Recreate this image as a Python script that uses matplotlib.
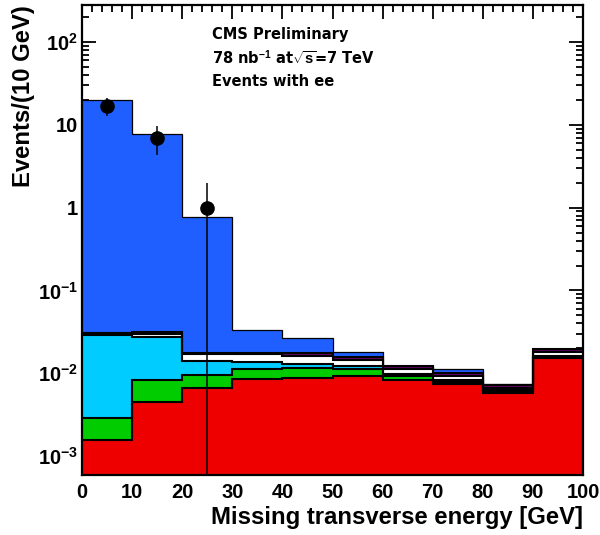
import numpy as np
import matplotlib
matplotlib.use("Agg")
import matplotlib.pyplot as plt
from matplotlib.ticker import FixedLocator, FixedFormatter, LogLocator, NullFormatter, MultipleLocator

plt.rcParams['font.family'] = ['Liberation Sans', 'DejaVu Sans']
plt.rcParams['font.weight'] = 'bold'
plt.rcParams['mathtext.fontset'] = 'custom'
plt.rcParams['mathtext.rm'] = 'Liberation Sans:bold'
plt.rcParams['mathtext.it'] = 'Liberation Sans:bold'
plt.rcParams['mathtext.bf'] = 'Liberation Sans:bold'
plt.rcParams['mathtext.default'] = 'rm'

# Missing transverse energy bins [GeV]
bin_edges = [0, 10, 20, 30, 40, 50, 60, 70, 80, 90, 100]

# Simulated contributions per bin (events / 10 GeV), stacked bottom to top
mc_red = [0.00156, 0.0045, 0.0066, 0.0085, 0.0087, 0.0092, 0.0082, 0.0075, 0.0058, 0.0153]
mc_green = [0.00132, 0.0038, 0.0030, 0.0028, 0.0028, 0.0021, 0.0011, 0.0003, 0.0001, 0.0002]
mc_cyan = [0.02602, 0.0192, 0.0046, 0.0022, 0.0016, 0.0009, 0.0004, 0.0005, 0.0003, 0.0005]
mc_white = [0.0006, 0.0025, 0.0031, 0.0037, 0.0029, 0.0023, 0.0015, 0.0010, 0.0004, 0.0019]
mc_purple = [0.0010, 0.0015, 0.0005, 0.0005, 0.0018, 0.0014, 0.0010, 0.0007, 0.0006, 0.0017]
mc_blue = [19.97, 7.67, 0.752, 0.0156, 0.0088, 0.0020, 0.0002, 0.0012, 0.0003, 0.0002]

# Observed events per bin
data_counts = [17, 7, 1, 0, 0, 0, 0, 0, 0, 0]

y_tick_values = [1e-3, 1e-2, 1e-1, 1, 10, 100]
y_tick_labels = [r'$10^{-3}$', r'$10^{-2}$', r'$10^{-1}$', '1', '10', r'$10^{2}$']

layers = [
    (mc_red, '#ee0000'),
    (mc_green, '#00cc00'),
    (mc_cyan, '#00ccff'),
    (mc_white, '#ffffff'),
    (mc_purple, '#660066'),
    (mc_blue, '#1f5fff'),
]

y_min, y_max = 5.9e-4, 280.0

fig = plt.figure(figsize=(6.0, 5.35), dpi=100)
ax = fig.add_axes([0.1367, 0.1121, 0.835, 0.8785])
ax.set_yscale('log')

edges = np.array(bin_edges, dtype=float)
cumulative = np.cumsum([np.array(v, dtype=float) for v, _ in layers], axis=0)

# draw totals from the top of the stack down, each filled from the floor
for i in range(len(layers) - 1, -1, -1):
    colour = layers[i][1]
    total = cumulative[i]
    ax.stairs(total, edges, baseline=y_min, fill=True, color=colour, zorder=2 + (len(layers) - i) * 0.01)
    lw = 0.9 if i == len(layers) - 1 else 1.5
    ax.stairs(total, edges, baseline=None, fill=False, color='black', lw=lw,
              zorder=2.5 + (len(layers) - i) * 0.01)

# data with Poisson errors
counts = np.array(data_counts, dtype=float)
centres = 0.5 * (edges[:-1] + edges[1:])
mask = counts > 0
err = np.sqrt(counts[mask])
err_low = np.minimum(err, counts[mask] - y_min * 0.5)
ax.errorbar(centres[mask], counts[mask], yerr=[err_low, err], fmt='o', color='black',
            ms=9.5, elinewidth=1.1, capsize=0, zorder=5)

ax.set_xlim(0, 100)
ax.set_ylim(y_min, y_max)

ax.xaxis.set_major_locator(MultipleLocator(10))
ax.xaxis.set_minor_locator(MultipleLocator(2))
ax.yaxis.set_major_locator(FixedLocator(y_tick_values))
ax.yaxis.set_major_formatter(FixedFormatter(y_tick_labels))
ax.yaxis.set_minor_locator(LogLocator(base=10, subs=np.arange(2, 10), numticks=20))
ax.yaxis.set_minor_formatter(NullFormatter())

ax.tick_params(which='both', direction='in', top=True, right=True, width=1.3, colors='black')
ax.tick_params(which='major', length=10, labelsize=14.5)
ax.tick_params(axis='x', which='major', pad=6)
ax.tick_params(axis='y', which='major', pad=3)
ax.tick_params(which='minor', length=5)
for spine in ax.spines.values():
    spine.set_linewidth(1.6)
    spine.set_zorder(10)

ax.set_xlabel('Missing transverse energy [GeV]', fontsize=17.2, fontweight='bold', loc='right', labelpad=2.5)
ax.set_ylabel('Events/(10 GeV)', fontsize=17.2, fontweight='bold', loc='top', labelpad=2)

block_font = dict(fontsize=10.5, fontweight='bold', va='center', family='DejaVu Sans')
ax.text(0.26, 0.938, 'CMS Preliminary', transform=ax.transAxes, **block_font)
ax.text(0.26, 0.887, r'78 nb$^{-1}$ at$\sqrt{s}$=7 TeV', transform=ax.transAxes, **block_font)
ax.text(0.26, 0.838, 'Events with ee', transform=ax.transAxes, **block_font)

fig.savefig('out.png', dpi=100)
